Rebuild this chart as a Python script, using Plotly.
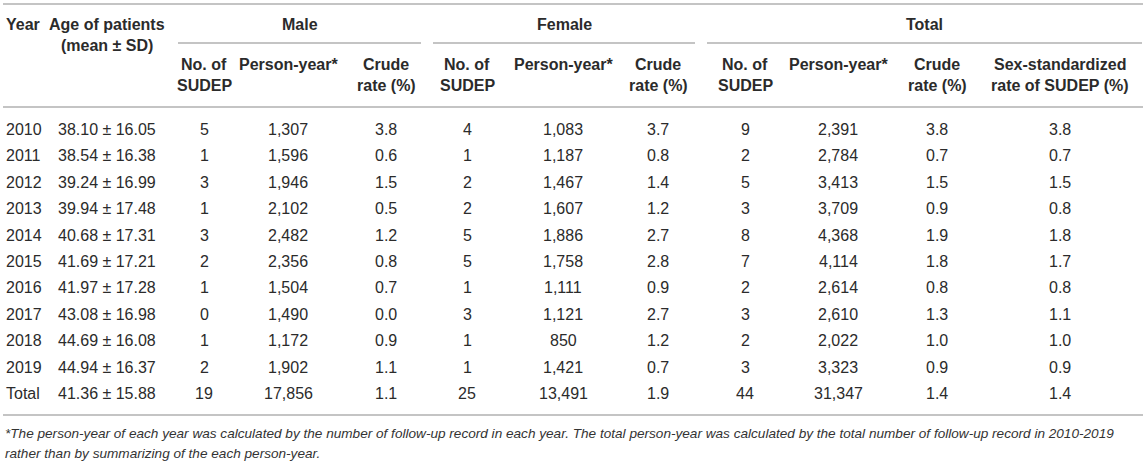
import plotly.graph_objects as go

# table data
years = ["2010", "2011", "2012", "2013", "2014", "2015", "2016", "2017", "2018", "2019", "Total"]
age_mean = [38.10, 38.54, 39.24, 39.94, 40.68, 41.69, 41.97, 43.08, 44.69, 44.94, 41.36]
age_sd = [16.05, 16.38, 16.99, 17.48, 17.31, 17.21, 17.28, 16.98, 16.08, 16.37, 15.88]
male_sudep = [5, 1, 3, 1, 3, 2, 1, 0, 1, 2, 19]
male_py = [1307, 1596, 1946, 2102, 2482, 2356, 1504, 1490, 1172, 1902, 17856]
male_rate = [3.8, 0.6, 1.5, 0.5, 1.2, 0.8, 0.7, 0.0, 0.9, 1.1, 1.1]
female_sudep = [4, 1, 2, 2, 5, 5, 1, 3, 1, 1, 25]
female_py = [1083, 1187, 1467, 1607, 1886, 1758, 1111, 1121, 850, 1421, 13491]
female_rate = [3.7, 0.8, 1.4, 1.2, 2.7, 2.8, 0.9, 2.7, 1.2, 0.7, 1.9]
total_sudep = [9, 2, 5, 3, 8, 7, 2, 3, 2, 3, 44]
total_py = [2391, 2784, 3413, 3709, 4368, 4114, 2614, 2610, 2022, 3323, 31347]
total_rate = [3.8, 0.7, 1.5, 0.9, 1.9, 1.8, 0.8, 1.3, 1.0, 0.9, 1.4]
std_rate = [3.8, 0.7, 1.5, 0.8, 1.8, 1.7, 0.8, 1.1, 1.0, 0.9, 1.4]

groups = ["Male", "Female", "Total"]
sub_headers = [("No. of", "SUDEP"), ("Person-year*",), ("Crude", "rate (%)")]
std_header = ("Sex-standardized", "rate of SUDEP (%)")
footnote = [
    "*The person-year of each year was calculated by the number of follow-up record in each year. "
    "The total person-year was calculated by the total number of follow-up record in 2010-2019",
    "rather than by summarizing of the each person-year.",
]

# layout (pixel space)
W, H = 1145, 463
FONT = "Liberation Sans, Arial, sans-serif"
TXT = "#2b2b2b"
RULE = "#c4c4c4"
col_x = [4, 107, 204, 288, 386, 467, 563, 658, 745, 838, 937, 1060]
group_span = [(178, 421), (433, 695), (707, 1142)]
row_y0, row_step = 129.5, 26.4
top_line, sub_line, head_line, foot_line = 4, 43, 107, 415

fig = go.Figure()
fig.update_xaxes(range=[0, W], visible=False, fixedrange=True)
fig.update_yaxes(range=[H, 0], visible=False, fixedrange=True)


def text(x, y, s, anchor="center", size=16, color=TXT):
    fig.add_annotation(x=x, y=y, xref="x", yref="y", text=s, showarrow=False,
                       xanchor=anchor, yanchor="middle",
                       font=dict(family=FONT, size=size, color=color))


def rule(x0, x1, y):
    fig.add_shape(type="line", xref="x", yref="y", x0=x0, x1=x1, y0=y, y1=y,
                  line=dict(color=RULE, width=2))


# rules
rule(3, 1143, top_line)
rule(3, 1143, head_line)
rule(3, 1143, foot_line)
for x0, x1 in group_span:
    rule(x0, x1, sub_line)

# header
text(col_x[0], 24, "<b>Year</b>", anchor="left")
text(col_x[1], 24, "<b>Age of patients</b>")
text(col_x[1], 45, "<b>(mean ± SD)</b>")
for g, (x0, x1) in zip(groups, group_span):
    text((x0 + x1) / 2, 24, f"<b>{g}</b>")
for gi in range(3):
    for si, lines in enumerate(sub_headers):
        for li, ln in enumerate(lines):
            text(col_x[2 + gi * 3 + si], 64 + li * 21, f"<b>{ln}</b>")
for li, ln in enumerate(std_header):
    text(col_x[11], 64 + li * 21, f"<b>{ln}</b>")

# body
for i, yr in enumerate(years):
    y = row_y0 + i * row_step
    cells = [
        f"{age_mean[i]:.2f} ± {age_sd[i]:.2f}",
        str(male_sudep[i]), f"{male_py[i]:,}", f"{male_rate[i]:.1f}",
        str(female_sudep[i]), f"{female_py[i]:,}", f"{female_rate[i]:.1f}",
        str(total_sudep[i]), f"{total_py[i]:,}", f"{total_rate[i]:.1f}",
        f"{std_rate[i]:.1f}",
    ]
    text(col_x[0], y, yr, anchor="left")
    for x, c in zip(col_x[1:], cells):
        text(x, y, c)

# footnote
for li, ln in enumerate(footnote):
    text(3, 433 + li * 20, f"<i>{ln}</i>", anchor="left", size=13.6, color="#333333")

fig.update_layout(width=W, height=H, margin=dict(l=0, r=0, t=0, b=0),
                  paper_bgcolor="white", plot_bgcolor="white", showlegend=False)
fig.write_html("out.html", config={"displayModeBar": False},
               post_script="document.body.style.margin='0';")
